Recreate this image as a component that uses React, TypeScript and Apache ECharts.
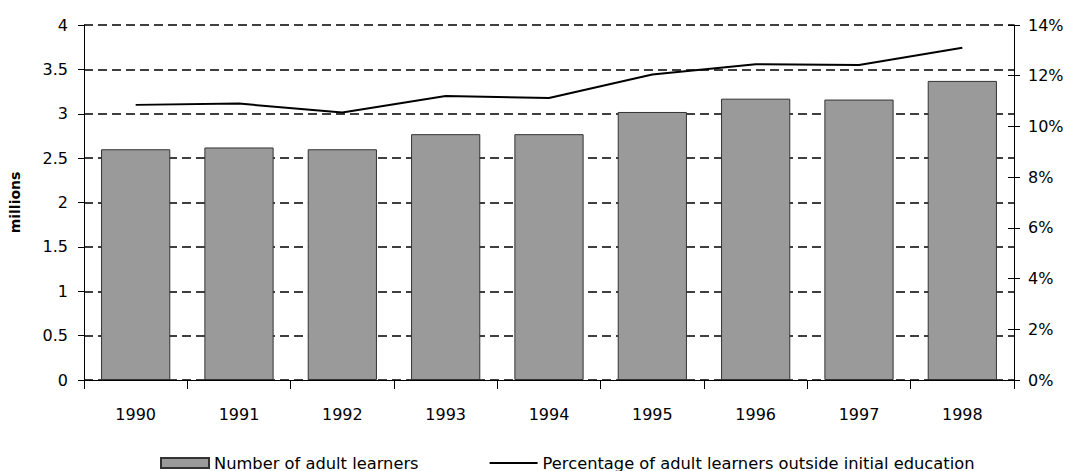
import React, { useEffect, useRef } from "react";
import * as echarts from "echarts";

const years = ["1990", "1991", "1992", "1993", "1994", "1995", "1996", "1997", "1998"];
const adultLearners = [2.6, 2.62, 2.6, 2.77, 2.77, 3.02, 3.17, 3.16, 3.37];
const percentOutside = [10.85, 10.9, 10.55, 11.2, 11.12, 12.05, 12.45, 12.42, 13.1];

const FONT = "DejaVu Sans";

export default function App() {
  const ref = useRef<HTMLDivElement>(null);
  useEffect(() => {
    if (!ref.current) return;
    const chart = echarts.init(ref.current, null, { renderer: "svg" });
    chart.setOption({
      animation: false,
      backgroundColor: "#ffffff",
      textStyle: { fontFamily: FONT, color: "#000" },
      grid: { left: 84, right: 55, top: 25, bottom: 91 },
      legend: {
        left: 155,
        top: 450,
        itemWidth: 48,
        itemHeight: 10,
        itemGap: 71,
        symbolKeepAspect: true,
        textStyle: { fontFamily: FONT, fontSize: 16.3, color: "#000" },
        data: [
          { name: "Number of adult learners", icon: "rect" },
          {
            name: "Percentage of adult learners outside initial education",
            icon: "path://M0,0 L100,0 L100,4 L0,4 Z",
          },
        ],
      },
      xAxis: {
        type: "category",
        data: years,
        axisLine: { lineStyle: { color: "#000", width: 1 } },
        axisTick: { show: true, alignWithLabel: false, length: 9, lineStyle: { color: "#000" } },
        axisLabel: { fontFamily: FONT, fontSize: 16, color: "#000", margin: 26 },
      },
      yAxis: [
        {
          type: "value",
          min: 0,
          max: 4,
          interval: 0.5,
          name: "millions",
          nameLocation: "middle",
          nameGap: 62,
          nameRotate: 90,
          nameTextStyle: { fontFamily: FONT, fontSize: 14, fontWeight: "bold", color: "#000" },
          axisLine: { show: true, lineStyle: { color: "#000" } },
          axisTick: { show: true, length: 6, lineStyle: { color: "#000" } },
          axisLabel: { fontFamily: FONT, fontSize: 16, color: "#000", margin: 16 },
          splitLine: { show: true, lineStyle: { color: "#000", type: [9, 5], width: 1.5 } },
        },
        {
          type: "value",
          min: 0,
          max: 14,
          interval: 2,
          position: "right",
          axisLine: { show: true, lineStyle: { color: "#000" } },
          axisTick: { show: true, length: 6, lineStyle: { color: "#000" } },
          axisLabel: { fontFamily: FONT, fontSize: 16, color: "#000", margin: 14, formatter: "{value}%" },
          splitLine: { show: false },
        },
        {
          type: "value",
          min: 0,
          max: 14,
          interval: 2,
          position: "right",
          axisLine: { show: false },
          axisTick: { show: true, inside: true, length: 6, lineStyle: { color: "#000" } },
          axisLabel: { show: false },
          splitLine: { show: false },
        },
      ],
      series: [
        {
          name: "Number of adult learners",
          type: "bar",
          data: adultLearners,
          yAxisIndex: 0,
          barCategoryGap: "33%",
          itemStyle: { color: "#9a9a9a", borderColor: "#333", borderWidth: 1 },
        },
        {
          name: "Percentage of adult learners outside initial education",
          type: "line",
          data: percentOutside,
          yAxisIndex: 1,
          symbol: "none",
          lineStyle: { color: "#000", width: 2 },
          itemStyle: { color: "#000" },
        },
      ],
    });
    return () => chart.dispose();
  }, []);
  return (
    <div
      ref={ref}
      style={{ position: "fixed", left: 0, top: 0, width: 1069, height: 471 }}
    />
  );
}
